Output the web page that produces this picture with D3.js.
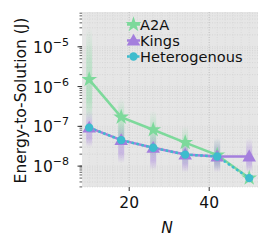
<!DOCTYPE html>
<html><head><meta charset="utf-8">
<script src="https://cdn.jsdelivr.net/npm/d3@7"></script>
<style>body{margin:0;background:#fff}svg{display:block;font-family:"DejaVu Sans",sans-serif}</style>
</head><body><svg id="c" width="269" height="246"></svg>
<script>
const Ns = [10, 18, 26, 34, 42, 50];
const seriesNames = ["A2A", "Kings", "Heterogenous"];
const a2a = [1.5e-6, 1.7e-7, 8.2e-8, 3.9e-8, 1.9e-8, 5e-9];
const kings = [9.3e-8, 4.5e-8, 2.9e-8, 1.95e-8, 1.75e-8, 1.75e-8];
const hetero = [9.3e-8, 4.5e-8, 2.9e-8, 1.95e-8, 1.75e-8, 5e-9];
// spread of individual runs (low, high)
const a2aLo = [1.2e-7, 3e-8, 1.5e-8, 1e-8, 8e-9, 5e-9];
const a2aHi = [3e-5, 5e-7, 2.5e-7, 1e-7, 5e-8, 5e-9];
const kingsLo = [3e-8, 1.2e-8, 8e-9, 7e-9, 7e-9, 7e-9];
const kingsHi = [2.5e-7, 1.2e-7, 7e-8, 5e-8, 5e-8, 5e-8];
const yTickVals = [1e-8, 1e-7, 1e-6, 1e-5];
const xTickVals = [20, 40];
const colors = {A2A: "#7dd99b", Kings: "#a47fdd", Heterogenous: "#3dbccd"};

const svg = d3.select("#c");
const L = 82, R = 258, T = 12, B = 187;
const FS = 15.5;
const x = d3.scaleLinear().domain([8.2, 52.2]).range([L, R]);
const y = d3.scaleLog().domain([Math.pow(10, -8.525), Math.pow(10, -4.125)]).range([B, T]);

svg.append("rect").attr("x", L).attr("y", T).attr("width", R - L).attr("height", B - T).attr("fill", "#e6e6e6");

// minor ticks/grid
const minor = [];
for (let e = -9; e <= -4; e++) for (let m = 1; m <= 9; m++) {
  const v = m * Math.pow(10, e);
  if (v >= y.domain()[0] && v <= y.domain()[1]) minor.push(v);
}
const g = svg.append("g");
g.selectAll(".hg").data(minor).join("line")
  .attr("x1", L).attr("x2", R).attr("y1", d => y(d)).attr("y2", d => y(d))
  .attr("stroke", "#cfcfcf").attr("stroke-width", 0.7).attr("stroke-dasharray", "1,1.5");
const xMinor = d3.range(10, 52, 2);
g.selectAll(".vg").data(xMinor).join("line")
  .attr("y1", T).attr("y2", B).attr("x1", d => x(d)).attr("x2", d => x(d))
  .attr("stroke", "#d6d6d6").attr("stroke-width", 0.7).attr("stroke-dasharray", "1,1.5");
g.selectAll(".vgM").data(xTickVals).join("line")
  .attr("y1", T).attr("y2", B).attr("x1", d => x(d)).attr("x2", d => x(d))
  .attr("stroke", "#bdbdbd").attr("stroke-width", 0.8).attr("stroke-dasharray", "1,1.5");

// y axis ticks
svg.selectAll(".ymin").data(minor).join("line")
  .attr("x1", L - 2.5).attr("x2", L).attr("y1", d => y(d)).attr("y2", d => y(d))
  .attr("stroke", "#333").attr("stroke-width", 0.8);
svg.selectAll(".ymaj").data(yTickVals).join("line")
  .attr("x1", L - 4.5).attr("x2", L).attr("y1", d => y(d)).attr("y2", d => y(d))
  .attr("stroke", "#333").attr("stroke-width", 1);
const yl = svg.selectAll(".yl").data(yTickVals).join("text")
  .attr("x", L - 13).attr("y", d => y(d) + 6).attr("text-anchor", "end")
  .attr("font-size", FS).attr("fill", "#111");
yl.append("tspan").text("10");
yl.append("tspan").attr("dy", -7).attr("font-size", 11).text(d => "\u2212" + Math.round(-Math.log10(d)));

// x axis
svg.selectAll(".xt").data(xTickVals).join("line")
  .attr("x1", d => x(d)).attr("x2", d => x(d)).attr("y1", B).attr("y2", B + 4)
  .attr("stroke", "#333").attr("stroke-width", 1);
svg.selectAll(".xl").data(xTickVals).join("text")
  .attr("x", d => x(d)).attr("y", B + 21).attr("text-anchor", "middle")
  .attr("font-size", FS).attr("fill", "#111").text(d => d);
svg.append("text").attr("x", (L + R) / 2 - 3).attr("y", 233).attr("text-anchor", "middle")
  .attr("font-size", FS).attr("font-style", "italic").attr("fill", "#111").text("N");
svg.append("text").attr("transform", `translate(26,${(T + B) / 2 + 1}) rotate(-90)`)
  .attr("text-anchor", "middle").attr("font-size", FS).attr("fill", "#111").text("Energy-to-Solution (J)");

// spread gradients
const defs = svg.append("defs");
function grad(id, col) {
  const gr = defs.append("linearGradient").attr("id", id).attr("x1", 0).attr("x2", 0).attr("y1", 0).attr("y2", 1);
  gr.append("stop").attr("offset", "0%").attr("stop-color", col).attr("stop-opacity", 0);
  gr.append("stop").attr("offset", "35%").attr("stop-color", col).attr("stop-opacity", 0.35);
  gr.append("stop").attr("offset", "75%").attr("stop-color", col).attr("stop-opacity", 0.45);
  gr.append("stop").attr("offset", "100%").attr("stop-color", col).attr("stop-opacity", 0);
}
grad("gA", colors.A2A); grad("gK", colors.Kings);
const clip = defs.append("clipPath").attr("id", "pc");
clip.append("rect").attr("x", L).attr("y", T).attr("width", R - L).attr("height", B - T);
const pg = svg.append("g").attr("clip-path", "url(#pc)");
pg.selectAll(".sa").data(Ns.map((n, i) => ({n, lo: a2aLo[i], hi: a2aHi[i]})).filter(d => d.hi > d.lo)).join("rect")
  .attr("x", d => x(d.n) - 3).attr("width", 6).attr("y", d => y(d.hi)).attr("height", d => y(d.lo) - y(d.hi))
  .attr("fill", "url(#gA)");
pg.selectAll(".sk").data(Ns.map((n, i) => ({n, lo: kingsLo[i], hi: kingsHi[i]}))).join("rect")
  .attr("x", d => x(d.n) - 3).attr("width", 6).attr("y", d => y(d.hi)).attr("height", d => y(d.lo) - y(d.hi))
  .attr("fill", "url(#gK)");

// lines
const line = d3.line().x((d, i) => x(Ns[i])).y(d => y(d));
pg.append("path").attr("d", line(a2a)).attr("fill", "none").attr("stroke", colors.A2A).attr("stroke-width", 2.5);
pg.append("path").attr("d", line(kings)).attr("fill", "none").attr("stroke", colors.Kings).attr("stroke-width", 2.5);
pg.append("path").attr("d", line(hetero)).attr("fill", "none").attr("stroke", colors.Heterogenous).attr("stroke-width", 2.5).attr("stroke-dasharray", "2.5,2.5");

const star = d3.symbol().type(d3.symbolStar).size(78);
const tri = d3.symbol().type(d3.symbolTriangle).size(80);
const circ = d3.symbol().type(d3.symbolCircle).size(55);
pg.selectAll(".ma").data(a2a).join("path").attr("d", star)
  .attr("transform", (d, i) => `translate(${x(Ns[i])},${y(d)})`).attr("fill", colors.A2A);
pg.selectAll(".mk").data(kings).join("path").attr("d", tri)
  .attr("transform", (d, i) => `translate(${x(Ns[i])},${y(d) + 1})`).attr("fill", colors.Kings);
pg.selectAll(".mh").data(hetero).join("path").attr("d", circ)
  .attr("transform", (d, i) => `translate(${x(Ns[i])},${y(d)})`).attr("fill", colors.Heterogenous);

// legend
const leg = svg.append("g");
const lx = 127, ly = [24.5, 40.5, 56.5];
const legendSyms = [star, tri, circ];
seriesNames.forEach((s, i) => {
  leg.append("line").attr("x1", lx).attr("x2", lx + 13).attr("y1", ly[i]).attr("y2", ly[i])
    .attr("stroke", colors[s]).attr("stroke-width", 2.5).attr("stroke-dasharray", i === 2 ? "2.5,2.5" : null);
  leg.append("path").attr("d", legendSyms[i]).attr("transform", `translate(${lx + 6.5},${ly[i] + (i === 1 ? 1 : 0)})`).attr("fill", colors[s]);
  leg.append("text").attr("x", lx + 13).attr("y", ly[i] + 5).attr("font-size", 14.6).attr("fill", "#111").text(s);
});
</script></body></html>
